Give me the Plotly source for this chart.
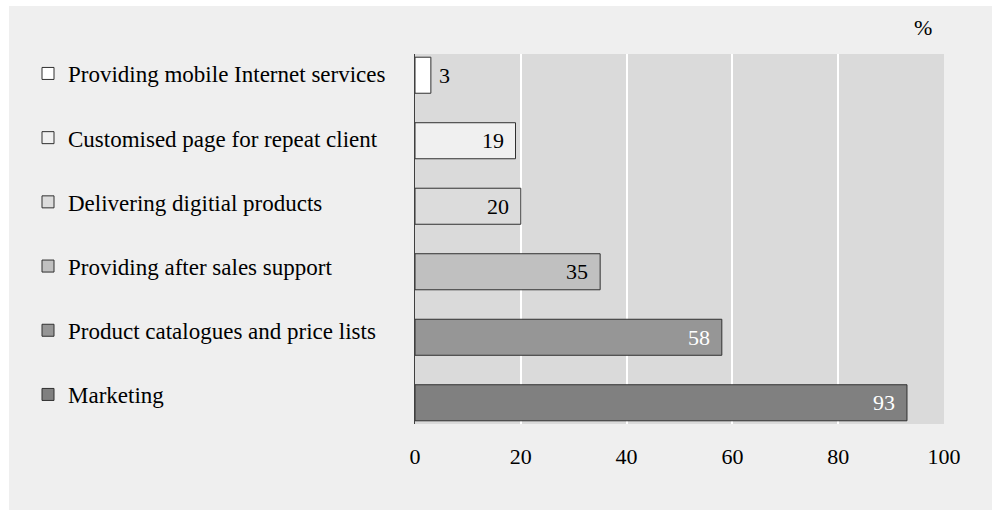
import plotly.graph_objects as go

# Survey shares (%) by e-business activity, listed top to bottom
categories = [
    "Providing mobile Internet services",
    "Customised page for repeat client",
    "Delivering digitial products",
    "Providing after sales support",
    "Product catalogues and price lists",
    "Marketing",
]
values = [3, 19, 20, 35, 58, 93]
fills = ["#ffffff", "#f0f0f0", "#dcdcdc", "#c0c0c0", "#969696", "#808080"]
label_colors = ["#000000", "#000000", "#000000", "#000000", "#ffffff", "#ffffff"]
x_ticks = [0, 20, 40, 60, 80, 100]

W, H = 997, 510
ML, MR, MT, MB = 415, 53, 54, 86
plot_w = W - ML - MR
plot_h = H - MT - MB


def px_x(px):
    return (px - ML) / plot_w


def px_y(py):
    return (H - MB - py) / plot_h


FONT = "Liberation Serif"

fig = go.Figure()
for i, (cat, val, col) in enumerate(zip(categories, values, fills)):
    fig.add_trace(go.Bar(
        x=[val], y=[cat], orientation="h", name=cat,
        legendgroup=f"g{i}",
        marker=dict(color=col, line=dict(color="#303030", width=1)),
        width=0.55, hoverinfo="x+y",
    ))

# value labels: inside the bar end, or just outside for short bars
for val, cat, tc in zip(values, categories, label_colors):
    inside = val >= 10
    fig.add_annotation(
        x=val, y=cat, xref="x", yref="y", text=str(val), showarrow=False,
        xanchor="right" if inside else "left",
        xshift=-10 if inside else 6,
        font=dict(family=FONT, size=22, color=tc),
    )

fig.add_annotation(
    x=px_x(923), y=px_y(27), xref="paper", yref="paper", text="%",
    showarrow=False, xanchor="center", yanchor="middle",
    font=dict(family=FONT, size=22, color="#000000"),
)

# white frame around the grey panel
fig.add_shape(type="rect", xref="paper", yref="paper",
              x0=px_x(0), x1=px_x(W), y0=px_y(0), y1=px_y(6),
              fillcolor="#ffffff", line=dict(width=0), layer="above")
fig.add_shape(type="rect", xref="paper", yref="paper",
              x0=px_x(0), x1=px_x(9), y0=px_y(H), y1=px_y(0),
              fillcolor="#ffffff", line=dict(width=0), layer="above")
fig.add_shape(type="rect", xref="paper", yref="paper",
              x0=px_x(992), x1=px_x(W), y0=px_y(H), y1=px_y(0),
              fillcolor="#ffffff", line=dict(width=0), layer="above")

fig.update_layout(
    width=W, height=H,
    margin=dict(l=ML, r=MR, t=MT, b=MB, pad=0),
    paper_bgcolor="#efefef", plot_bgcolor="#dadada",
    barmode="overlay",
    font=dict(family=FONT, size=22, color="#000000"),
    showlegend=True,
    legend=dict(
        x=px_x(28), y=px_y(52), xanchor="left", yanchor="top",
        traceorder="grouped", tracegroupgap=31.3, maxheight=480,
        bgcolor="rgba(0,0,0,0)", borderwidth=0,
        font=dict(family=FONT, size=23, color="#000000"),
        itemclick=False, itemdoubleclick=False,
    ),
    xaxis=dict(
        range=[0, 100], tickvals=x_ticks, ticktext=[str(t) for t in x_ticks],
        showgrid=True, gridcolor="#ffffff", gridwidth=2,
        zeroline=False, showline=False, ticks="",
        ticklabelstandoff=17,
        tickfont=dict(family=FONT, size=22, color="#000000"),
        fixedrange=True,
    ),
    yaxis=dict(
        type="category", categoryorder="array",
        categoryarray=list(reversed(categories)),
        range=[-0.324, 5.324], showticklabels=False, showgrid=False,
        zeroline=False, showline=True, linecolor="#404040", linewidth=1,
        ticks="", fixedrange=True,
    ),
)

fig.write_html("out.html")
